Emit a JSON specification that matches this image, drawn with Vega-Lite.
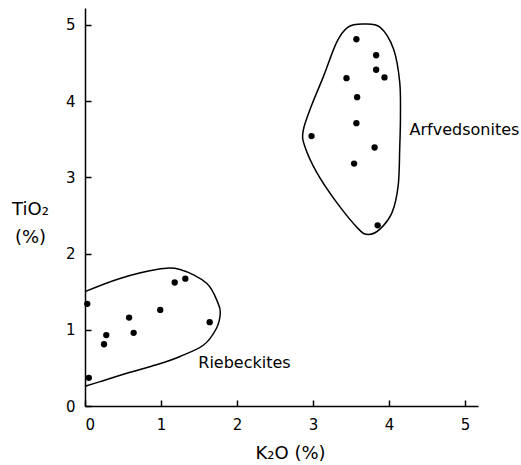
{
  "$schema": "https://vega.github.io/schema/vega-lite/v6.json",
  "width": 393,
  "height": 398,
  "autosize": {"type": "none"},
  "padding": {"left": 85, "top": 8, "right": 43, "bottom": 59},
  "background": "white",
  "config": {
    "view": {"stroke": null},
    "font": "DejaVu Sans",
    "axis": {
      "domainColor": "black", "domainWidth": 1.5, "tickColor": "black", "tickWidth": 1.5,
      "labelColor": "black", "titleColor": "black", "labelFont": "DejaVu Sans", "titleFont": "DejaVu Sans",
      "labelFontSize": 15, "titleFontSize": 18, "titleFontWeight": "normal", "grid": false
    }
  },
  "datasets": {
    "pts": [
      {"k2o": 0.03, "tio2": 1.34, "grp": "Riebeckites"},
      {"k2o": 0.05, "tio2": 0.37, "grp": "Riebeckites"},
      {"k2o": 0.28, "tio2": 0.93, "grp": "Riebeckites"},
      {"k2o": 0.25, "tio2": 0.81, "grp": "Riebeckites"},
      {"k2o": 0.58, "tio2": 1.16, "grp": "Riebeckites"},
      {"k2o": 0.64, "tio2": 0.96, "grp": "Riebeckites"},
      {"k2o": 0.99, "tio2": 1.26, "grp": "Riebeckites"},
      {"k2o": 1.18, "tio2": 1.62, "grp": "Riebeckites"},
      {"k2o": 1.32, "tio2": 1.67, "grp": "Riebeckites"},
      {"k2o": 1.64, "tio2": 1.10, "grp": "Riebeckites"},
      {"k2o": 3.57, "tio2": 4.81, "grp": "Arfvedsonites"},
      {"k2o": 3.83, "tio2": 4.60, "grp": "Arfvedsonites"},
      {"k2o": 3.83, "tio2": 4.41, "grp": "Arfvedsonites"},
      {"k2o": 3.44, "tio2": 4.30, "grp": "Arfvedsonites"},
      {"k2o": 3.94, "tio2": 4.31, "grp": "Arfvedsonites"},
      {"k2o": 3.58, "tio2": 4.05, "grp": "Arfvedsonites"},
      {"k2o": 3.57, "tio2": 3.71, "grp": "Arfvedsonites"},
      {"k2o": 2.98, "tio2": 3.54, "grp": "Arfvedsonites"},
      {"k2o": 3.81, "tio2": 3.39, "grp": "Arfvedsonites"},
      {"k2o": 3.54, "tio2": 3.18, "grp": "Arfvedsonites"},
      {"k2o": 3.85, "tio2": 2.37, "grp": "Arfvedsonites"}
    ],
    "rieb": [
      {"o": 1, "k2o": 0.0, "tio2": 1.50},
      {"o": 2, "k2o": 0.45, "tio2": 1.67},
      {"o": 3, "k2o": 0.94, "tio2": 1.79},
      {"o": 4, "k2o": 1.25, "tio2": 1.79},
      {"o": 5, "k2o": 1.60, "tio2": 1.61},
      {"o": 6, "k2o": 1.75, "tio2": 1.35},
      {"o": 7, "k2o": 1.78, "tio2": 1.22},
      {"o": 8, "k2o": 1.73, "tio2": 1.02},
      {"o": 9, "k2o": 1.56, "tio2": 0.80},
      {"o": 10, "k2o": 1.25, "tio2": 0.65},
      {"o": 11, "k2o": 0.94, "tio2": 0.54},
      {"o": 12, "k2o": 0.55, "tio2": 0.43},
      {"o": 13, "k2o": 0.20, "tio2": 0.32},
      {"o": 14, "k2o": 0.0, "tio2": 0.26}
    ],
    "arf": [
      {"o": 1, "k2o": 3.65, "tio2": 5.01},
      {"o": 2, "k2o": 3.88, "tio2": 4.97},
      {"o": 3, "k2o": 4.06, "tio2": 4.68},
      {"o": 4, "k2o": 4.14, "tio2": 4.25},
      {"o": 5, "k2o": 4.15, "tio2": 3.81},
      {"o": 6, "k2o": 4.14, "tio2": 3.37},
      {"o": 7, "k2o": 4.12, "tio2": 2.89},
      {"o": 8, "k2o": 4.04, "tio2": 2.54},
      {"o": 9, "k2o": 3.88, "tio2": 2.32},
      {"o": 10, "k2o": 3.73, "tio2": 2.25},
      {"o": 11, "k2o": 3.60, "tio2": 2.32},
      {"o": 12, "k2o": 3.31, "tio2": 2.67},
      {"o": 13, "k2o": 3.05, "tio2": 3.06},
      {"o": 14, "k2o": 2.89, "tio2": 3.41},
      {"o": 15, "k2o": 2.87, "tio2": 3.61},
      {"o": 16, "k2o": 2.98, "tio2": 3.94},
      {"o": 17, "k2o": 3.14, "tio2": 4.33},
      {"o": 18, "k2o": 3.31, "tio2": 4.77},
      {"o": 19, "k2o": 3.46, "tio2": 4.97}
    ],
    "labels": [
      {"k2o": 4.27, "tio2": 3.62, "text": "Arfvedsonites"},
      {"k2o": 1.49, "tio2": 0.565, "text": "Riebeckites"}
    ]
  },
  "resolve": {"axis": {"x": "independent", "y": "independent"}},
  "layer": [
    {
      "encoding": {
        "x": {
          "field": "k2o", "type": "quantitative",
          "scale": {"domain": [0, 5.17], "nice": false, "zero": false},
          "axis": {
            "values": [0, 1, 2, 3, 4, 5], "ticks": false, "labelPadding": 11,
            "title": "K₂O (%)", "titleX": 205, "titleY": 52, "titleBaseline": "alphabetic", "titleAnchor": "middle", "titleAlign": "center"
          }
        },
        "y": {
          "field": "tio2", "type": "quantitative",
          "scale": {"domain": [0, 5.22], "nice": false, "zero": false},
          "axis": {
            "values": [0, 1, 2, 3, 4, 5], "ticks": false, "labelPadding": 10,
            "title": ["TiO₂", "(%)"], "titleAngle": 0, "titleX": -55, "titleY": 192,
            "titleAlign": "center", "titleBaseline": "top", "titleLineHeight": 28, "titleAnchor": null
          }
        }
      },
      "layer": [
        {
          "data": {"name": "rieb"},
          "mark": {"type": "line", "interpolate": "cardinal", "color": "black", "strokeWidth": 1.5},
          "encoding": {"order": {"field": "o", "type": "quantitative"}}
        },
        {
          "data": {"name": "arf"},
          "mark": {"type": "line", "interpolate": "cardinal-closed", "color": "black", "strokeWidth": 1.5},
          "encoding": {"order": {"field": "o", "type": "quantitative"}}
        },
        {
          "data": {"name": "pts"},
          "mark": {"type": "circle", "color": "black", "opacity": 1, "size": 40}
        },
        {
          "data": {"name": "labels"},
          "mark": {"type": "text", "align": "left", "baseline": "middle", "fontSize": 16, "font": "DejaVu Sans", "color": "black"},
          "encoding": {"text": {"field": "text", "type": "nominal"}}
        }
      ]
    },
    {
      "data": {"name": "pts"},
      "mark": {"type": "point", "opacity": 0},
      "encoding": {
        "x": {
          "field": "k2o", "type": "quantitative",
          "scale": {"domain": [0, 5.17], "nice": false, "zero": false},
          "axis": {"orient": "bottom", "offset": -6, "values": [0, 1, 2, 3, 4, 5], "domain": false, "labels": false, "ticks": true, "tickSize": 6, "title": null}
        },
        "y": {
          "field": "tio2", "type": "quantitative",
          "scale": {"domain": [0, 5.22], "nice": false, "zero": false},
          "axis": {"orient": "left", "offset": -6, "values": [0, 1, 2, 3, 4, 5], "domain": false, "labels": false, "ticks": true, "tickSize": 6, "title": null}
        }
      }
    }
  ]
}
